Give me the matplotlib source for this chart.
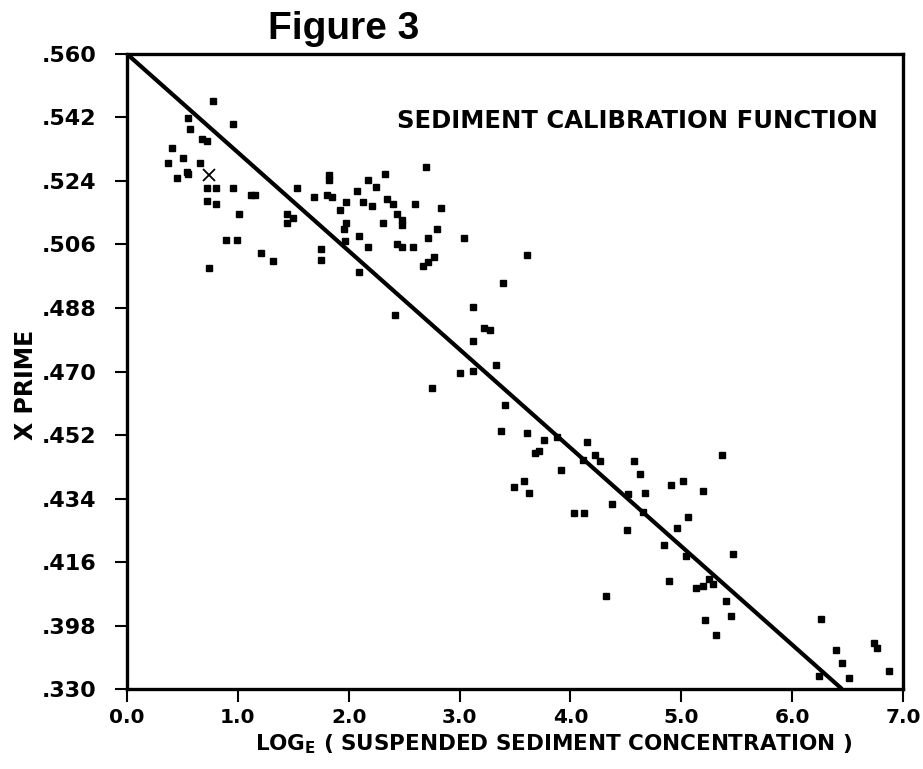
import numpy as np
import matplotlib
matplotlib.use("Agg")
import matplotlib.pyplot as plt

# observed points: log_e(suspended sediment concentration) vs x prime
log_conc = [
    0.778, 0.548, 0.568, 0.953, 0.681, 0.723, 0.409, 0.508, 0.373, 0.661,
    0.537, 0.552, 0.448, 0.723, 0.800, 0.953, 0.722, 0.800, 1.010, 1.123,
    1.152, 0.893, 0.990, 0.740, 1.206, 1.320, 1.532, 1.687, 1.825, 1.825,
    1.801, 1.846, 1.921, 1.980, 1.495, 1.441, 1.441, 1.975, 1.957, 1.748,
    1.748, 2.095, 2.171, 2.093, 2.077, 2.172, 2.249, 2.327, 2.132, 2.210,
    2.343, 2.404, 2.307, 2.438, 2.481, 2.481, 2.598, 2.694, 2.830, 2.438,
    2.482, 2.577, 2.712, 2.792, 3.044, 2.771, 2.718, 2.673, 3.605, 3.392,
    2.422, 3.121, 3.220, 3.274, 3.121, 3.331, 3.004, 3.121, 2.754, 3.410,
    3.374, 3.605, 3.759, 3.680, 3.719, 3.915, 4.147, 4.224, 4.264, 3.488,
    3.584, 3.624, 4.573, 4.632, 4.670, 4.378, 4.029, 4.125, 4.513, 4.318,
    5.367, 4.904, 5.018, 5.193, 5.058, 4.958, 4.844, 5.040, 5.466, 4.886,
    5.133, 5.193, 5.250, 5.289, 5.406, 5.446, 5.214, 5.310, 6.260, 6.393,
    6.449, 6.239, 6.510, 6.738, 6.762, 6.876, 1.966, 3.876, 4.116, 4.522,
    4.652,
]
x_prime = [
    0.5468, 0.5419, 0.5388, 0.5401, 0.5359, 0.5353, 0.5334, 0.5304, 0.5291, 0.5291,
    0.5266, 0.5261, 0.5249, 0.5219, 0.5219, 0.5219, 0.5182, 0.5176, 0.5146, 0.5200,
    0.5200, 0.5072, 0.5072, 0.4993, 0.5036, 0.5012, 0.5219, 0.5194, 0.5256, 0.5243,
    0.5200, 0.5195, 0.5158, 0.5181, 0.5134, 0.5146, 0.5122, 0.5121, 0.5103, 0.5048,
    0.5017, 0.5085, 0.5054, 0.4981, 0.5212, 0.5243, 0.5224, 0.5261, 0.5181, 0.5170,
    0.5188, 0.5176, 0.5121, 0.5146, 0.5129, 0.5114, 0.5176, 0.5279, 0.5163, 0.5061,
    0.5054, 0.5054, 0.5079, 0.5103, 0.5079, 0.5025, 0.5011, 0.4999, 0.5030, 0.4950,
    0.4859, 0.4883, 0.4822, 0.4817, 0.4786, 0.4719, 0.4695, 0.4701, 0.4653, 0.4604,
    0.4531, 0.4525, 0.4507, 0.4470, 0.4476, 0.4422, 0.4500, 0.4464, 0.4446, 0.4373,
    0.4391, 0.4355, 0.4446, 0.4409, 0.4355, 0.4324, 0.4300, 0.4300, 0.4251, 0.4065,
    0.4463, 0.4378, 0.4391, 0.4360, 0.4287, 0.4256, 0.4207, 0.4178, 0.4184, 0.4107,
    0.4087, 0.4093, 0.4112, 0.4099, 0.4050, 0.4008, 0.3995, 0.3953, 0.3998, 0.3910,
    0.3874, 0.3838, 0.3831, 0.3930, 0.3916, 0.3850, 0.5070, 0.4515, 0.4449, 0.4353,
    0.4303,
]

# the one point drawn as an X
x_mark = [0.741]
y_mark = [0.5256]

# calibration line end points
line_x = [0.0, 6.45]
line_y = [0.560, 0.380]

x_ticks = [0, 1, 2, 3, 4, 5, 6, 7]
x_tick_labels = ["0.0", "1.0", "2.0", "3.0", "4.0", "5.0", "6.0", "7.0"]
y_ticks = [0.560, 0.542, 0.524, 0.506, 0.488, 0.470, 0.452, 0.434, 0.416, 0.398, 0.380]
y_tick_labels = [".560", ".542", ".524", ".506", ".488", ".470", ".452",
                 ".434", ".416", ".398", ".330"]

plt.rcParams['font.family'] = ['DejaVu Sans']
plt.rcParams['mathtext.fontset'] = 'dejavusans'

fig = plt.figure(figsize=(9.23, 7.69), dpi=100)
ax = fig.add_axes([0.1376, 0.104, 0.8407, 0.8258])

ax.plot(line_x, line_y, color='black', linewidth=3.0, solid_capstyle='butt')
ax.plot(log_conc, x_prime, linestyle='none', marker='s', markersize=4.0,
        color='black')
ax.plot(x_mark, y_mark, linestyle='none', marker='x', markersize=9,
        markeredgewidth=1.3, color='black')

ax.set_xlim(0, 7)
ax.set_ylim(0.380, 0.560)
ax.set_xticks(x_ticks)
ax.set_xticklabels(x_tick_labels, fontsize=14.5, fontweight='bold')
ax.set_yticks(y_ticks)
ax.set_yticklabels(y_tick_labels, fontsize=16, fontweight='bold')
ax.tick_params(direction='out', length=9, width=1.5)
ax.tick_params(axis='y', pad=13)
ax.tick_params(axis='x', pad=5)

for side in ax.spines.values():
    side.set_linewidth(2.4)

ax.set_ylabel('X PRIME', fontsize=17, fontweight='bold')
ax.yaxis.set_label_coords(-0.115, 0.479)
ax.set_xlabel(r'LOG$_\mathbf{E}$ ( SUSPENDED SEDIMENT CONCENTRATION )',
              fontsize=15.5, fontweight='bold')
ax.xaxis.set_label_coords(0.55, -0.068)

ax.text(0.968, 0.895, 'SEDIMENT CALIBRATION FUNCTION', transform=ax.transAxes,
        ha='right', va='center', fontsize=17.5, fontweight='bold')
fig.text(0.372, 0.962, 'Figure 3', ha='center', va='center',
         fontsize=28, fontweight='bold', family=['Liberation Sans', 'DejaVu Sans'])

fig.savefig('out.png', dpi=100)
